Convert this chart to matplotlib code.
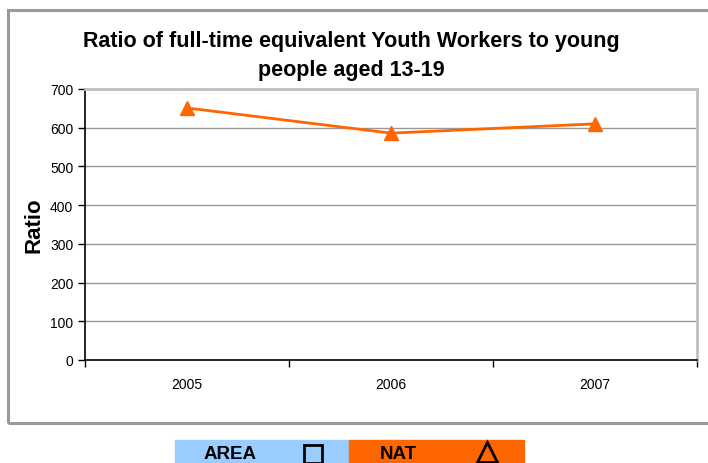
import matplotlib.pyplot as plt
from matplotlib.patches import Rectangle
from matplotlib.lines import Line2D

years = ['2005', '2006', '2007']
nat_ratio = [651, 586, 610]
y_ticks = [0, 100, 200, 300, 400, 500, 600, 700]

orange = '#FF6600'
blue = '#99CCFF'
W, H = 708, 464

plt.rcParams['font.family'] = ['Liberation Sans', 'DejaVu Sans']

fig = plt.figure(figsize=(W / 100, H / 100), dpi=100)

# moldura externa do gráfico
fig.patches.append(Rectangle((8 / W, 1 - 424 / H), 710 / W, 413 / H,
                             transform=fig.transFigure, fill=False,
                             edgecolor='#999999', linewidth=2.2))

ax = fig.add_axes([85 / W, 1 - 361 / H, 612 / W, 271 / H])
x = list(range(len(years)))
ax.plot(x, nat_ratio, color=orange, linewidth=2, marker='^', markersize=10,
        markerfacecolor=orange, markeredgecolor=orange)

ax.set_xlim(-0.5, len(years) - 0.5)
ax.set_ylim(0, 700)
ax.set_yticks(y_ticks)
ax.set_yticklabels([str(v) for v in y_ticks], fontsize=10)
ax.set_xticks([i - 0.5 for i in range(len(years) + 1)])
ax.set_xticklabels([])
ax.set_xticks(x, minor=True)
ax.set_xticklabels(years, minor=True, fontsize=10)
ax.tick_params(axis='x', which='minor', length=0, pad=12)
ax.tick_params(axis='both', which='major', length=5, width=1, color='black')
ax.grid(axis='y', color='#999999', linewidth=1)
ax.set_axisbelow(True)

for s in ['left', 'bottom']:
    ax.spines[s].set_color('black')
    ax.spines[s].set_linewidth(1.2)
for s in ['top', 'right']:
    ax.spines[s].set_color('#C0C0C0')
    ax.spines[s].set_linewidth(2)

ax.set_ylabel('Ratio', fontsize=16, fontweight='bold', labelpad=4)
fig.text(351 / W, 1 - 56 / H,
         'Ratio of full-time equivalent Youth Workers to young\npeople aged 13-19',
         ha='center', va='center', fontsize=15.5, fontweight='bold',
         linespacing=1.45)

# legenda feita à mão embaixo
fig.patches.append(Rectangle((175 / W, 0), 174 / W, 23 / H,
                             transform=fig.transFigure, color=blue))
fig.patches.append(Rectangle((349 / W, 0), 175 / W, 23 / H,
                             transform=fig.transFigure, color=orange))
fig.text(230 / W, 9 / H, 'AREA', ha='center', va='center',
         fontsize=13.5, fontweight='bold')
fig.text(398 / W, 9 / H, 'NAT', ha='center', va='center',
         fontsize=13.5, fontweight='bold')
fig.lines.append(Line2D([313 / W], [9 / H], transform=fig.transFigure,
                        marker='s', markersize=13, markerfacecolor='none',
                        markeredgecolor='black', markeredgewidth=2,
                        linestyle='none'))
fig.lines.append(Line2D([487 / W], [11.5 / H], transform=fig.transFigure,
                        marker='^', markersize=14, markerfacecolor='none',
                        markeredgecolor='black', markeredgewidth=2,
                        linestyle='none'))

fig.savefig('out.png', dpi=100)
